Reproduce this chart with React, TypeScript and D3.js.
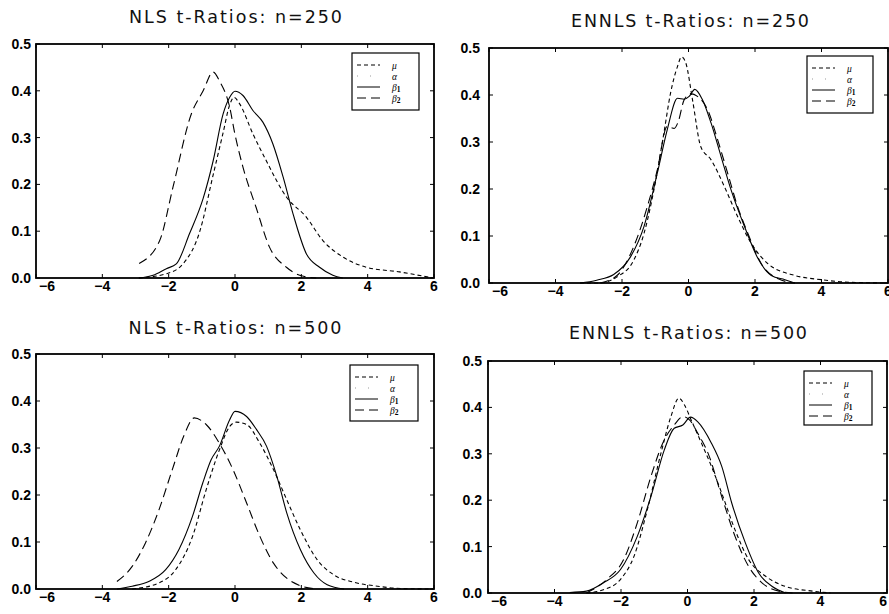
import { useRef, useEffect } from 'react';
import * as d3 from 'd3';

const W = 889;
const H = 614;

// x ticks / y ticks shared by every panel
const xTicks = [-6, -4, -2, 0, 2, 4, 6];
const yTicks = [0, 0.1, 0.2, 0.3, 0.4, 0.5];
const legendLabels = ['μ', 'α', 'β1', 'β2'];

// NLS n=250
const nls250Mu = [[-2.9, 0], [-2.07, 0.009], [-1.57, 0.03], [-1.06, 0.1], [-0.66, 0.22], [-0.36, 0.31], [-0.16, 0.37], [-0.03, 0.386], [0.14, 0.372], [0.54, 0.308], [0.94, 0.251], [1.55, 0.173], [2.15, 0.13], [2.65, 0.08], [3.25, 0.045], [3.96, 0.023], [4.96, 0.013], [5.96, 0]];
const nls250B1 = [[-2.9, 0], [-2.47, 0.006], [-2.07, 0.02], [-1.77, 0.03], [-1.37, 0.095], [-0.96, 0.17], [-0.66, 0.25], [-0.36, 0.35], [-0.16, 0.386], [0, 0.399], [0.24, 0.39], [0.54, 0.358], [0.84, 0.333], [1.14, 0.287], [1.45, 0.216], [1.75, 0.137], [2.15, 0.052], [2.55, 0.023], [2.95, 0.006], [3.25, 0]];
const nls250B2 = [[-2.89, 0.031], [-2.27, 0.08], [-1.87, 0.194], [-1.32, 0.35], [-0.96, 0.4], [-0.66, 0.44], [-0.46, 0.42], [-0.16, 0.365], [-0.01, 0.31], [0.24, 0.237], [0.64, 0.15], [1.04, 0.066], [1.55, 0.023], [1.95, 0.006], [2.45, 0]];

// ENNLS n=250
const ennls250Mu = [[-3.26, 0], [-2.66, 0], [-2.15, 0.013], [-1.65, 0.048], [-1.34, 0.105], [-1.04, 0.198], [-0.74, 0.319], [-0.54, 0.404], [-0.33, 0.461], [-0.21, 0.481], [-0.08, 0.468], [0.12, 0.39], [0.37, 0.29], [0.68, 0.262], [1.08, 0.205], [1.48, 0.141], [1.89, 0.084], [2.39, 0.041], [3.2, 0.016], [4.0, 0.007], [4.7, 0.002], [5.93, 0]];
const ennls250B1 = [[-3.26, 0], [-2.76, 0.006], [-2.25, 0.018], [-1.75, 0.055], [-1.34, 0.12], [-0.94, 0.233], [-0.64, 0.326], [-0.33, 0.393], [-0.13, 0.391], [0.02, 0.397], [0.19, 0.412], [0.42, 0.39], [0.68, 0.34], [0.98, 0.269], [1.28, 0.198], [1.69, 0.119], [2.09, 0.052], [2.49, 0.016], [2.9, 0.007], [3.2, 0]];
const ennls250B2 = [[-2.66, 0], [-2.15, 0.016], [-1.65, 0.077], [-1.24, 0.162], [-0.94, 0.24], [-0.64, 0.333], [-0.43, 0.329], [-0.31, 0.343], [-0.13, 0.39], [0.07, 0.403], [0.27, 0.397], [0.58, 0.368], [0.88, 0.304], [1.18, 0.233], [1.48, 0.162], [1.79, 0.105], [2.19, 0.041], [2.7, 0.009], [3.2, 0]];

// NLS n=500
const nls500Mu = [[-3.1, 0], [-2.29, 0.013], [-1.79, 0.041], [-1.28, 0.112], [-0.87, 0.211], [-0.47, 0.296], [-0.16, 0.346], [0.04, 0.355], [0.35, 0.35], [0.75, 0.31], [1.16, 0.254], [1.56, 0.19], [1.97, 0.126], [2.48, 0.062], [2.98, 0.03], [3.6, 0.014], [4.3, 0.006], [5.0, 0.001], [6, 0]];
const nls500B1 = [[-3.56, 0], [-3.1, 0.006], [-2.6, 0.016], [-2.09, 0.041], [-1.69, 0.084], [-1.28, 0.155], [-0.97, 0.226], [-0.72, 0.275], [-0.47, 0.304], [-0.16, 0.36], [0, 0.378], [0.35, 0.367], [0.65, 0.339], [0.95, 0.304], [1.26, 0.24], [1.56, 0.162], [1.97, 0.084], [2.38, 0.034], [2.78, 0.009], [3.29, 0]];
const nls500B2 = [[-3.56, 0.016], [-3.1, 0.048], [-2.7, 0.098], [-2.29, 0.169], [-1.89, 0.254], [-1.53, 0.328], [-1.23, 0.364], [-0.87, 0.35], [-0.47, 0.31], [-0.06, 0.254], [0.35, 0.183], [0.75, 0.112], [1.16, 0.055], [1.56, 0.023], [1.97, 0.007], [2.48, 0]];

// ENNLS n=500
const ennls500Mu = [[-3.04, 0], [-2.53, 0.007], [-2.02, 0.029], [-1.61, 0.079], [-1.21, 0.179], [-0.8, 0.301], [-0.5, 0.38], [-0.26, 0.42], [-0.09, 0.405], [0.11, 0.373], [0.42, 0.323], [0.72, 0.273], [1.03, 0.215], [1.43, 0.136], [1.84, 0.072], [2.35, 0.036], [2.95, 0.014], [3.77, 0.004], [4.3, 0]];
const ennls500B1 = [[-3.54, 0.001], [-3.04, 0.004], [-2.53, 0.022], [-2.02, 0.05], [-1.51, 0.122], [-1.1, 0.208], [-0.7, 0.308], [-0.4, 0.355], [-0.14, 0.362], [0.09, 0.379], [0.31, 0.369], [0.72, 0.323], [1.03, 0.273], [1.33, 0.194], [1.74, 0.108], [2.14, 0.043], [2.55, 0.014], [2.95, 0]];
const ennls500B2 = [[-3.04, 0], [-2.43, 0.029], [-1.92, 0.072], [-1.51, 0.151], [-1.1, 0.251], [-0.7, 0.33], [-0.4, 0.362], [-0.14, 0.38], [0.06, 0.373], [0.31, 0.344], [0.62, 0.301], [1.03, 0.208], [1.43, 0.122], [1.84, 0.057], [2.24, 0.022], [2.75, 0.004], [3.16, 0]];

const titles = ['NLS t-Ratios: n=250', 'ENNLS t-Ratios: n=250', 'NLS t-Ratios: n=500', 'ENNLS t-Ratios: n=500'];

// layout of the four panels
const panels = [
    { title: titles[0], left: 36, right: 434, top: 44, bottom: 278, tx: 235.5, ty: 23, tw: 213, lg: [352, 53, 67, 57], gap: 5, endIn: false, data: [nls250Mu, nls250B1, nls250B2] },
    { title: titles[1], left: 489, right: 888, top: 48, bottom: 283, tx: 690, ty: 27, tw: 238, lg: [807, 56, 66, 57], gap: 9, endIn: false, data: [ennls250Mu, ennls250B1, ennls250B2] },
    { title: titles[2], left: 36, right: 434, top: 354, bottom: 589, tx: 235, ty: 334, tw: 213, lg: [350, 365, 68, 56], gap: 5, endIn: false, data: [nls500Mu, nls500B1, nls500B2] },
    { title: titles[3], left: 488, right: 887, top: 361, bottom: 593, tx: 688, ty: 339, tw: 238, lg: [804, 371, 68, 54], gap: 6, endIn: true, data: [ennls500Mu, ennls500B1, ennls500B2] },
];

// mu, alpha, beta1, beta2
const dashes = ['4,3', '1,12', null, '9,5'];

const App = () => {
    const ref = useRef(null);

    useEffect(() => {
        const svg = d3.select(ref.current);
        svg.selectAll('*').remove();
        svg.append('rect').attr('width', W).attr('height', H).attr('fill', 'white');

        panels.forEach(p => {
            const x = d3.scaleLinear().domain([-6, 6]).range([p.left, p.right]);
            const y = d3.scaleLinear().domain([0, 0.5]).range([p.bottom, p.top]);
            const g = svg.append('g');

            g.append('text')
                .attr('x', p.tx).attr('y', p.ty)
                .attr('text-anchor', 'middle')
                .attr('textLength', p.tw).attr('lengthAdjust', 'spacing')
                .style('font-family', 'DejaVu Sans')
                .style('font-size', '17.5px')
                .attr('fill', '#111')
                .text(p.title);

            // inward ticks on all four sides
            const tk = 4;
            xTicks.forEach(t => {
                g.append('line').attr('x1', x(t)).attr('x2', x(t)).attr('y1', p.bottom).attr('y2', p.bottom - tk).attr('stroke', '#000');
                g.append('line').attr('x1', x(t)).attr('x2', x(t)).attr('y1', p.top).attr('y2', p.top + tk).attr('stroke', '#000');
            });
            yTicks.forEach(t => {
                g.append('line').attr('x1', p.left).attr('x2', p.left + tk).attr('y1', y(t)).attr('y2', y(t)).attr('stroke', '#000');
                g.append('line').attr('x1', p.right).attr('x2', p.right - tk).attr('y1', y(t)).attr('y2', y(t)).attr('stroke', '#000');
            });

            const last = xTicks.length - 1;
            g.selectAll('.xl').data(xTicks).enter().append('text')
                .attr('x', (d, i) => i === 0 ? x(d) + 3 : x(d))
                .attr('y', p.bottom + 13)
                .attr('text-anchor', (d, i) => i === 0 ? 'start' : (i === last && p.endIn ? 'end' : 'middle'))
                .style('font-family', 'Liberation Sans, Arial, sans-serif')
                .style('font-weight', 'bold')
                .style('font-size', '14px')
                .text(d => d === 0 ? '0' : (d < 0 ? '−' + Math.abs(d) : d));

            g.selectAll('.yl').data(yTicks).enter().append('text')
                .attr('x', p.left - p.gap)
                .attr('y', d => y(d) + 5)
                .attr('text-anchor', 'end')
                .style('font-family', 'Liberation Sans, Arial, sans-serif')
                .style('font-weight', 'bold')
                .style('font-size', '14px')
                .text(d => d3.format('.1f')(d));

            const line = d3.line().x(d => x(d[0])).y(d => y(d[1])).curve(d3.curveMonotoneX);
            const seriesDash = [dashes[0], dashes[2], dashes[3]];
            p.data.forEach((s, i) => {
                g.append('path')
                    .attr('d', line(s))
                    .attr('fill', 'none')
                    .attr('stroke', '#000')
                    .attr('stroke-width', 1.1)
                    .attr('stroke-dasharray', seriesDash[i]);
            });

            g.append('rect')
                .attr('x', p.left).attr('y', p.top)
                .attr('width', p.right - p.left).attr('height', p.bottom - p.top)
                .attr('fill', 'none').attr('stroke', '#000').attr('stroke-width', 1.8);

            // legend
            const [lx, ly, lw, lh] = p.lg;
            g.append('rect').attr('x', lx).attr('y', ly).attr('width', lw).attr('height', lh)
                .attr('fill', 'white').attr('stroke', '#000').attr('stroke-width', 1.2);
            legendLabels.forEach((lab, i) => {
                const ry = ly + 12 + i * 11;
                g.append('line')
                    .attr('x1', lx + 5).attr('x2', lx + 28).attr('y1', ry).attr('y2', ry)
                    .attr('stroke', i === 1 ? '#999' : '#000')
                    .attr('stroke-width', 1)
                    .attr('stroke-dasharray', dashes[i]);
                const t = g.append('text')
                    .attr('x', lx + 40).attr('y', ry + 3.5)
                    .style('font-family', 'Liberation Serif, serif')
                    .style('font-style', 'italic')
                    .style('font-size', '9.5px');
                t.append('tspan').text(lab[0]);
                if (lab.length > 1) {
                    t.append('tspan').attr('dy', 1).style('font-size', '7.5px').style('font-style', 'normal').style('font-weight', 'bold').text(lab[1]);
                }
            });
        });
    }, []);

    return (
        <svg ref={ref} width={W} height={H} style={{ position: 'absolute', left: 0, top: 0 }}></svg>
    );
};

export default App;
